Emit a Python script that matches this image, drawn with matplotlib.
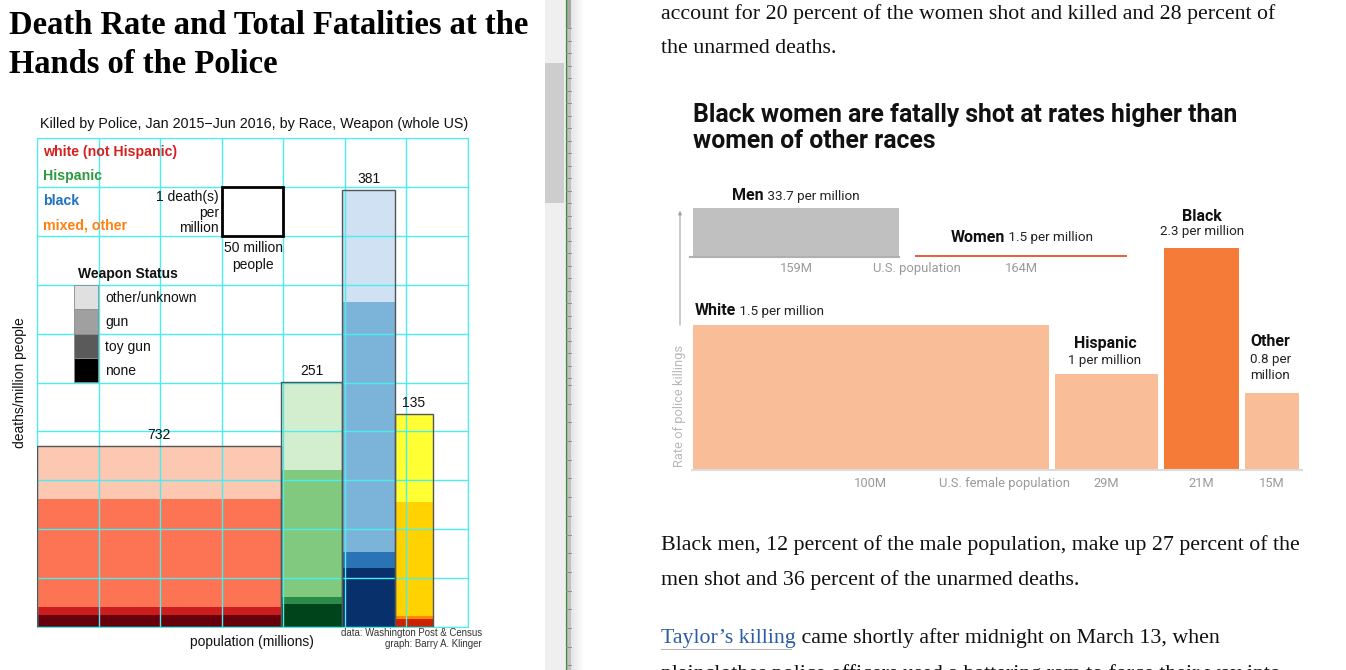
import matplotlib
matplotlib.use("Agg")
import matplotlib.pyplot as plt
import numpy as np
from matplotlib.patches import Rectangle

W, H = 1346, 670

# left chart: people killed by police, Jan 2015 - Jun 2016
races = ["white (not Hispanic)", "Hispanic", "black", "mixed, other"]
population = [198, 50, 42.6, 31]          # millions
deaths_total = [732, 251, 381, 135]
weapons = ["none", "toy gun", "gun", "other/unknown"]   # bottom -> top
deaths_none = [49, 24, 51, 5]
deaths_toy = [32, 7, 14, 2]
deaths_gun = [436, 130, 218, 72]
deaths_other = [215, 90, 98, 56]

race_text_colors = ["#d42020", "#2e9a40", "#2270c0", "#ff8010"]
race_shades = [
    ["#67000d", "#cb1d1d", "#fc7454", "#fcc8b2"],
    ["#00441b", "#2a8c48", "#80c97f", "#d3edcf"],
    ["#08306b", "#2a74b6", "#7bb3d9", "#cfe1f2"],
    ["#cc2200", "#ff8800", "#ffd200", "#ffff33"],
]
weapon_legend_shades = ["#000000", "#5a5a5a", "#a0a0a0", "#e0e0e0"]

# right chart: rate of police killings by sex / race of women
sex_groups = ["Men", "Women"]
sex_rate = [33.7, 1.5]
sex_pop = [159, 164]
women_races = ["White", "Hispanic", "Black", "Other"]
women_rate = [1.5, 1, 2.3, 0.8]
women_pop = [100, 29, 21, 15]
women_colors = ["#f9bd98", "#f9bd98", "#f47c38", "#f9bd98"]

SANS = "Liberation Sans"
SERIF = "Liberation Serif"
WAPO = "Roboto"


def rect(x0, y0, x1, y1):
    return [x0 / W, 1 - y1 / H, (x1 - x0) / W, (y1 - y0) / H]


fig = plt.figure(figsize=(W / 100, H / 100), dpi=100)
fig.patch.set_facecolor("white")

# ---------- left: Marimekko chart ----------
ax = fig.add_axes(rect(37, 138, 468, 627))
lefts = np.concatenate([[0], np.cumsum(population)[:-1]])
stack = [deaths_none, deaths_toy, deaths_gun, deaths_other]
for i in range(len(races)):
    bottom = 0
    for level, counts in enumerate(stack):
        h = counts[i] / population[i]
        ax.bar(lefts[i], h, width=population[i], bottom=bottom, align="edge",
               color=race_shades[i][level], lw=0, zorder=1)
        bottom += h
    rate = deaths_total[i] / population[i]
    ax.bar(lefts[i], rate, width=population[i], align="edge", fill=False,
           edgecolor="#555555", lw=1, zorder=3)
    ax.annotate(str(deaths_total[i]), (lefts[i] + population[i] / 2, rate),
                xytext=(0, 5), textcoords="offset points", ha="center",
                va="baseline", fontsize=10, family=SANS, color="#111")

# weapon legend swatches and scale box
for k, shade in enumerate(weapon_legend_shades):
    ax.add_patch(Rectangle((30, 5 + 0.5 * k), 19.5, 0.5, facecolor=shade,
                           edgecolor="#8a8a8a", lw=0.6, zorder=4))
ax.add_patch(Rectangle((150, 8), 50, 1, fill=False, edgecolor="black", lw=2, zorder=4))

ax.set_xlim(0, 350)
ax.set_ylim(0, 10)
ax.set_xticks(np.arange(0, 351, 50))
ax.set_yticks(np.arange(0, 11))
ax.tick_params(length=0, labelbottom=False, labelleft=False)
ax.grid(True, color="#48eef0", lw=1)
ax.set_axisbelow(False)
for s in ax.spines.values():
    s.set_color("#48eef0")

# ---------- right: WaPo chart ----------
ax_t = fig.add_axes(rect(693, 180, 1140, 257))
ax_t.patch.set_visible(False)
px_per_m = 206 / 159
sex_lefts = [0, 171.3]
ax_t.bar(sex_lefts, sex_rate, width=sex_pop, align="edge",
         color=["#c0c0c0", "#e8643c"], lw=0)
ax_t.plot([-2, sex_pop[0]], [0, 0], color="#b0b0b0", lw=1.5, clip_on=False)
for x0, p in zip(sex_lefts, sex_pop):
    ax_t.annotate(f"{p}M", (x0 + p / 2, 0), xytext=(0, -10.8), textcoords="offset points",
                  ha="center", va="baseline", fontsize=9.3, color="#9a9a9a", family=WAPO)
ax_t.set_xlim(0, 447 / px_per_m)
ax_t.set_ylim(0, 77 / (49 / 33.7))
ax_t.axis("off")

ax_b = fig.add_axes(rect(693, 200, 1305, 470))
ax_b.patch.set_visible(False)
gap = 1.8
w_lefts = []
pos = 0
for p in women_pop:
    w_lefts.append(pos)
    pos += p + gap
ax_b.bar(w_lefts, women_rate, width=women_pop, align="edge", color=women_colors, lw=0)
ax_b.plot([-0.3, pos - gap + 0.8], [0, 0], color="#dcdcdc", lw=1.5, clip_on=False)
for x0, p in zip(w_lefts, women_pop):
    ax_b.annotate(f"{p}M", (x0 + p / 2, 0), xytext=(0, -12.2), textcoords="offset points",
                  ha="center", va="baseline", fontsize=9.3, color="#9a9a9a", family=WAPO)
ax_b.set_xlim(0, 612 / 3.555)
ax_b.set_ylim(0, 270 / 96.5)
ax_b.axis("off")

# ---------- overlay canvas in pixel coords ----------
c = fig.add_axes([0, 0, 1, 1], zorder=10)
c.set_xlim(0, W)
c.set_ylim(H, 0)
c.axis("off")
c.patch.set_visible(False)

# scrollbar and pane divider
c.add_patch(Rectangle((545, 0), 20, H, color="#efefef", lw=0))
c.add_patch(Rectangle((545, 63), 19, 140, color="#cdcdcd", lw=0))
c.add_patch(Rectangle((566, 0), 5, H, color="#c2c2c2", lw=0))
c.add_patch(Rectangle((566, 0), 5, 28, color="#a8a8a8", lw=0))
c.plot([565.5, 565.5], [0, H], color="#3b8a3b", lw=1)
ticks = list(np.arange(28, 385, 12.5)) + list(np.arange(385, H, 18.7))
for ty in ticks:
    c.plot([566, 571], [ty, ty], color="#8f8f8f", lw=0.7)
shade = np.linspace(0.90, 1.0, 14)
grad = np.tile(shade, (2, 1))
c.imshow(np.dstack([grad, grad, grad]), extent=[571, 585, H, 0], aspect="auto",
         interpolation="bilinear")
c.set_xlim(0, W)
c.set_ylim(H, 0)

# left page text
c.text(9, 34, "Death Rate and Total Fatalities at the", family=SERIF, weight="bold",
       fontsize=23.5, va="baseline")
c.text(9, 73, "Hands of the Police", family=SERIF, weight="bold", fontsize=23.5, va="baseline")
c.text(254, 128, "Killed by Police, Jan 2015\u2212Jun 2016, by Race, Weapon (whole US)",
       ha="center", va="baseline", fontsize=10.25, family=SANS, color="#111")
for name, col, by in zip(races, race_text_colors, [156, 180, 205, 229]):
    c.text(43, by, name, color=col, fontsize=10.2, weight="bold", family=SANS, va="baseline")
for line, by in zip(["1 death(s)", "per", "million"], [200.5, 216.5, 232.5]):
    c.text(219, by, line, ha="right", va="baseline", fontsize=10, family=SANS, color="#111")
for line, by in zip(["50 million", "people"], [252.5, 268.5]):
    c.text(253, by, line, ha="center", va="baseline", fontsize=10, family=SANS, color="#111")
c.text(78, 278, "Weapon Status", weight="bold", fontsize=10, family=SANS, va="baseline",
       color="#111")
for name, by in zip(weapons[::-1], [301.5, 326, 350.5, 375]):
    c.text(105, by, name, fontsize=10, family=SANS, va="baseline", color="#111")
c.text(20, 383, "deaths/million people", rotation=90, ha="center", va="center",
       fontsize=10, family=SANS, color="#111")
c.text(252, 646, "population (millions)", ha="center", va="baseline", fontsize=10,
       family=SANS, color="#111")
c.text(482, 636.5, "data: Washington Post & Census", ha="right", va="baseline",
       fontsize=6.9, family=SANS, color="#333")
c.text(482, 647, "graph: Barry A. Klinger", ha="right", va="baseline",
       fontsize=6.9, family=SANS, color="#333")

# right page body text
body = dict(family=SERIF, fontsize=15.75, va="baseline", color="#111")
c.text(661, 19, "account for 20 percent of the women shot and killed and 28 percent of", **body)
c.text(661, 53, "the unarmed deaths.", **body)
c.text(661, 550, "Black men, 12 percent of the male population, make up 27 percent of the", **body)
c.text(661, 585, "men shot and 36 percent of the unarmed deaths.", **body)
link = c.text(661, 643, "Taylor\u2019s killing", **dict(body, color="#2b5ca8"))
c.annotate(" came shortly after midnight on March 13, when", xy=(1, 0), xycoords=link,
           ha="left", va="bottom", family=SERIF, fontsize=15.75, color="#111")
c.plot([661, 791], [648.5, 648.5], color="#b8b8b8", lw=0.8)
c.text(661, 679, "plainclothes police officers used a battering ram to force their way into",
       **body)

# right chart title
c.text(693, 122, "Black women are fatally shot at rates higher than", family=WAPO,
       weight="bold", fontsize=17.8, va="baseline", color="#111")
c.text(693, 148, "women of other races", family=WAPO, weight="bold", fontsize=17.8,
       va="baseline", color="#111")


def two_part(x, y, bold, rest, ha="left"):
    t = c.text(x, y, bold, family=WAPO, weight="bold", fontsize=11.5, va="baseline",
               ha=ha, color="#111")
    c.annotate(rest, xy=(1, 0), xycoords=t, ha="left", va="bottom", family=WAPO,
               fontsize=9.7, color="#222")


two_part(732, 200, "Men", " 33.7 per million")
two_part(951, 241.5, "Women", " 1.5 per million")
two_part(695, 315, "White", " 1.5 per million")

lab_b = dict(family=WAPO, weight="bold", fontsize=11.5, va="baseline", color="#111")
lab_r = dict(family=WAPO, fontsize=9.6, va="baseline", color="#222")
c.text(1202, 221, "Black", ha="center", **lab_b)
c.text(1202, 234.5, "2.3 per million", ha="center", **lab_r)
c.text(1105, 348, "Hispanic", ha="center", **lab_b)
c.text(1105, 364, "1 per million", ha="center", **lab_r)
c.text(1250, 346, "Other", ha="left", **lab_b)
c.text(1250, 362.5, "0.8 per", ha="left", **lab_r)
c.text(1250, 379, "million", ha="left", **lab_r)

gray = dict(family=WAPO, fontsize=9.4, va="baseline", ha="center", color="#9a9a9a")
c.text(917, 272, "U.S. population", **gray)
c.text(1004, 486.5, "U.S. female population", **gray)
c.text(679, 406, "Rate of police killings", rotation=90, ha="center", va="center",
       family=WAPO, fontsize=9.3, color="#b8b8b8")
c.annotate("", xy=(680, 208), xytext=(680, 328),
           arrowprops=dict(arrowstyle="-|>", color="#a0a0a0", lw=0.8, mutation_scale=5))

fig.savefig("out.png", dpi=100)
